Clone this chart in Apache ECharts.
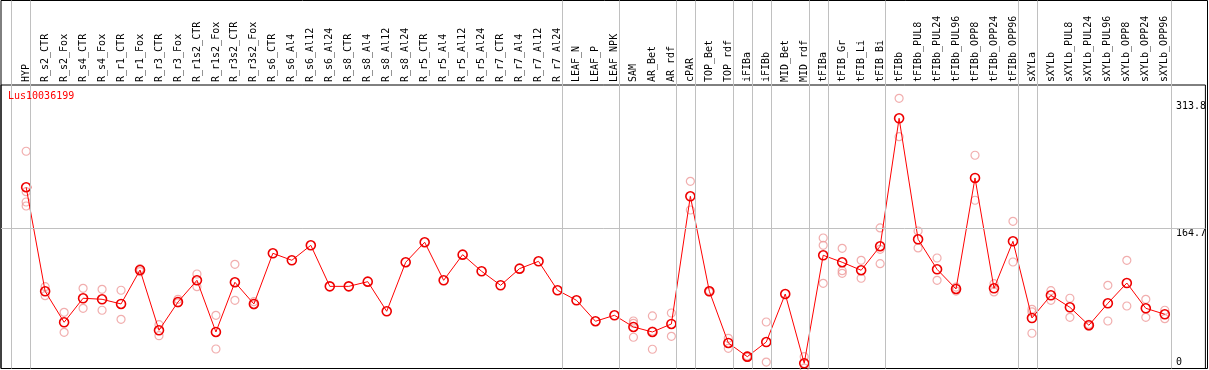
<!DOCTYPE html>
<html>
<head>
<meta charset="utf-8">
<script src="https://cdn.jsdelivr.net/npm/echarts@6/dist/echarts.min.js"></script>
<style>html,body{margin:0;padding:0;background:#fff}#c{width:1209px;height:370px}</style>
</head>
<body>
<div id="c"></div>
<script>
const categories = ['HYP','R_s2_CTR','R_s2_Fox','R_s4_CTR','R_s4_Fox','R_r1_CTR','R_r1_Fox','R_r3_CTR','R_r3_Fox','R_r1s2_CTR','R_r1s2_Fox','R_r3s2_CTR','R_r3s2_Fox','R_s6_CTR','R_s6_Al4','R_s6_Al12','R_s6_Al24','R_s8_CTR','R_s8_Al4','R_s8_Al12','R_s8_Al24','R_r5_CTR','R_r5_Al4','R_r5_Al12','R_r5_Al24','R_r7_CTR','R_r7_Al4','R_r7_Al12','R_r7_Al24','LEAF_N','LEAF_P','LEAF_NPK','SAM','AR_Bet','AR_rdf','cPAR','TOP_Bet','TOP_rdf','iFIBa','iFIBb','MID_Bet','MID_rdf','tFIBa','tFIB_Gr','tFIB_Li','tFIB_Bi','tFIBb','tFIBb_PUL8','tFIBb_PUL24','tFIBb_PUL96','tFIBb_OPP8','tFIBb_OPP24','tFIBb_OPP96','sXYLa','sXYLb','sXYLb_PUL8','sXYLb_PUL24','sXYLb_PUL96','sXYLb_OPP8','sXYLb_OPP24','sXYLb_OPP96'];

const means = [212.9,90.7,54.3,82.5,81.3,75.8,115.7,44.9,78.1,103.6,42.9,101.3,75.8,135.3,127.1,144.7,96.5,96.5,102.0,67.2,124.8,148.3,103.6,133.7,114.2,97.7,117.3,125.9,91.9,80.1,55.5,62.5,48.8,42.9,52.3,202.3,90.7,30.0,13.9,31.1,87.5,6.1,133.0,124.8,115.4,143.6,293.9,151.8,116.5,93.4,223.8,94.2,149.4,59.3,86.0,71.9,50.8,76.6,100.4,70.7,63.7];

const replicates = [
  [255.2,207.7,195.6,190.9],[96.1,85.5],[66.0,42.5],[94.2,70.7],[93.0,68.4],[91.9,57.8],[117.3,113.7],[51.5,38.5],[81.3,77.0],[111.0,96.1],[62.5,22.9],[122.4,80.1],[78.5,74.6],
  [],[],[],[],[],[],[],[],[],[],[],[],[],[],[],[],[],[],[],
  [55.8,53.1,36.7],[61.7,44.0,22.6],[65.2,37.8],[219.9,186.2],[91.5,89.9],[35.5,23.7],[14.8,13.0],[54.6,7.6],[],[13.9,0.5],
  [153.3,144.7,100.1],[141.2,114.9,111.8],[127.1,106.0],[165.1,140.0,123.1],
  [317.4,272.3],[161.5,141.6],[129.8,103.6],[95.7,91.0],[250.5,197.6],[99.6,89.9],[172.9,125.1],
  [69.5,66.4,41.4],[91.4,80.1],[82.5,60.1],[52.0,49.6],[97.7,55.8],[127.1,73.4],[81.3,60.1],[68.4,58.5]
];

// group separators: drawn just after these category indices
const groupEnds = [-1,0,28,31,34,35,37,38,39,41,42,45,52,53,60];

const yTickLabels = [0, 164.7, 313.8];
const refLines = [164.7];
const title = 'Lus10036199';

const FONT = 'DejaVu Sans Mono';
const X_MIN = -1.3256, X_MAX = 62.14, Y_MAX = 333;
const SEP_OFFSET = 0.21;

const meanData = means.map((v,i)=>[i,v]);
const repData = [];
replicates.forEach((arr,i)=>arr.forEach(v=>repData.push([i,v])));

const chart = echarts.init(document.getElementById('c'), null, {renderer:'canvas'});
chart.setOption({
  animation:false,
  textStyle:{fontFamily:FONT},
  title:{text:title, left:8, top:91, padding:0, textStyle:{color:'#ff0000', fontSize:10, fontFamily:FONT, fontWeight:'normal'}},
  grid:[
    {left:1, right:1.5, top:85, bottom:1.5, show:true, borderColor:'#000', borderWidth:1, backgroundColor:'transparent'},
    {left:1, right:1.5, top:0.5, bottom:1.5, show:true, borderColor:'#000', borderWidth:1, backgroundColor:'transparent'}
  ],
  xAxis:[
    {gridIndex:0, type:'value', min:X_MIN, max:X_MAX, position:'top',
     axisLine:{show:false}, axisTick:{show:false}, splitLine:{show:false},
     axisLabel:{customValues:categories.map((c,i)=>i), formatter:v=>categories[v]||'', rotate:90, margin:3,
       fontSize:10, fontFamily:FONT, color:'#000'}},
    {gridIndex:1, type:'value', min:X_MIN, max:X_MAX, show:false}
  ],
  yAxis:[
    {gridIndex:0, type:'value', min:0, max:Y_MAX, position:'right',
     axisLine:{show:false}, axisTick:{show:false}, splitLine:{show:false},
     axisLabel:{inside:true, align:'left', margin:29.5, customValues:yTickLabels, verticalAlign:'middle',
       fontSize:10, fontFamily:FONT, color:'#000',
       formatter:v=> v===0 ? '{b|0}' : '{t|'+v+'}',
       rich:{t:{fontSize:10, fontFamily:FONT, color:'#000', padding:[10,0,0,0]},
             b:{fontSize:10, fontFamily:FONT, color:'#000', padding:[0,0,13,0]}}}},
    {gridIndex:1, type:'value', min:0, max:1, show:false}
  ],
  series:[
    {type:'line', xAxisIndex:1, yAxisIndex:1, data:[], silent:true, z:1,
     markLine:{silent:true, symbol:'none', label:{show:false}, animation:false,
       lineStyle:{color:'#c0c0c0', width:1, type:'solid'},
       data:groupEnds.map(i=>({xAxis:i+SEP_OFFSET}))}},
    {type:'line', xAxisIndex:0, yAxisIndex:0, data:[], silent:true, z:1,
     markLine:{silent:true, symbol:'none', label:{show:false}, animation:false,
       lineStyle:{color:'#c0c0c0', width:1, type:'solid'},
       data:refLines.map(v=>({yAxis:v}))}},
    {type:'scatter', xAxisIndex:0, yAxisIndex:0, data:repData, symbol:'circle', symbolSize:8, z:3,
     itemStyle:{color:'rgba(0,0,0,0)', borderColor:'#ee9a9a', borderWidth:1.2}},
    {type:'line', xAxisIndex:0, yAxisIndex:0, data:meanData, symbol:'circle', symbolSize:9, z:4,
     lineStyle:{color:'#ff0000', width:1},
     itemStyle:{color:'rgba(0,0,0,0)', borderColor:'#ee0000', borderWidth:1.6}}
  ]
});
</script>
</body>
</html>
